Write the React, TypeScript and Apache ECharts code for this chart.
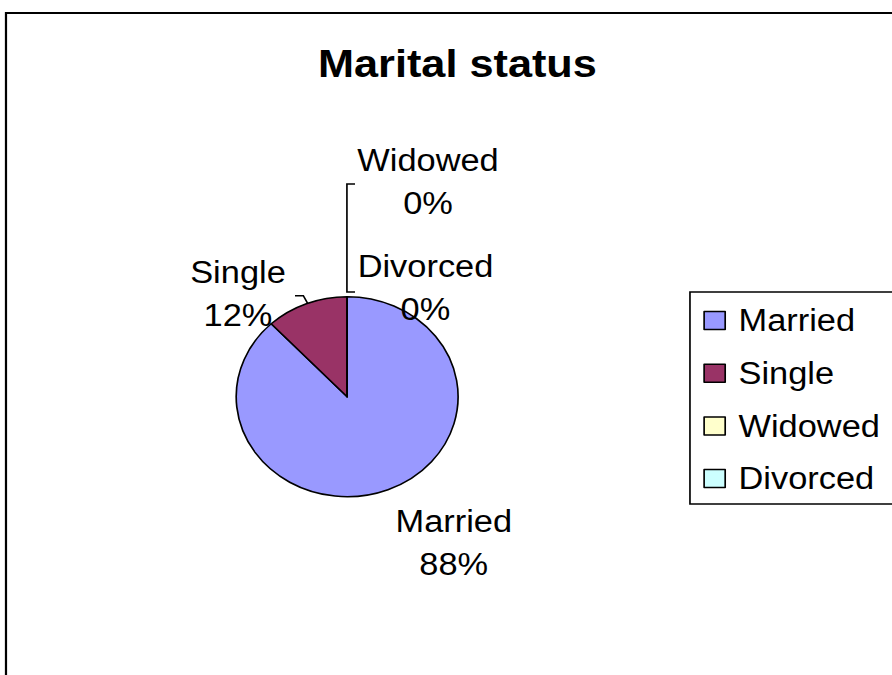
import React, { useEffect, useRef } from "react";
import * as echarts from "echarts";

// ---- data ----
const categories = ["Married", "Single", "Widowed", "Divorced"];
const values = [88, 12, 0, 0];
const colors = ["#9999FF", "#993366", "#FFFFCC", "#CCFFFF"];
const titleText = "Marital status";

// ---- layout (chart coordinates; the chart is stretched horizontally like the reference) ----
const W = 804;
const H = 675;
const STRETCH = 892 / W;
const FONT = "'Liberation Sans', Arial, Helvetica, sans-serif";

const labelSpots: { x: number; y: number; line?: number[][] }[] = [
  { x: 409, y: 542.5 },
  { x: 214.5, y: 294, line: [[265.9, 295.7], [273.4, 295.7], [277.3, 303.3]] },
  { x: 385.8, y: 181.4, line: [[320, 184], [312.7, 184], [312.7, 292], [320, 292]] },
  { x: 383.5, y: 288 },
];

export default function App() {
  const ref = useRef<HTMLDivElement>(null);

  useEffect(() => {
    if (!ref.current) return;
    const chart = echarts.init(ref.current, null, { renderer: "svg" });
    const data = categories.map((name, i) => ({
      name,
      value: values[i],
      itemStyle: { color: colors[i] },
      labelLine: { show: !!labelSpots[i].line, lineStyle: { color: "#000", width: 1.5 } },
    }));
    chart.setOption({
      animation: false,
      backgroundColor: "#ffffff",
      graphic: [
        {
          type: "rect",
          silent: true,
          z: -10,
          shape: { x: 5.4, y: 13, width: 1000, height: 1000 },
          style: { fill: "none", stroke: "#000", lineWidth: 2 },
        },
        {
          type: "text",
          silent: true,
          x: 412.3,
          y: 63.5,
          style: {
            text: titleText,
            fontSize: 39,
            fontWeight: "bold",
            fontFamily: FONT,
            fill: "#000",
            align: "center",
            verticalAlign: "middle",
          },
        },
      ],
      legend: {
        orient: "vertical",
        left: 621.9,
        top: 292,
        padding: [13, 15, 10, 12],
        itemGap: 21.7,
        itemWidth: 19,
        itemHeight: 18,
        icon: "rect",
        selectedMode: false,
        borderColor: "#000",
        borderWidth: 1.5,
        backgroundColor: "#fff",
        itemStyle: { borderColor: "#000", borderWidth: 1.5 },
        textStyle: {
          fontSize: 31,
          lineHeight: 31,
          fontFamily: FONT,
          color: "#000",
          padding: [0, 0, 0, 7],
        },
        data: categories,
      },
      series: [
        {
          type: "pie",
          center: [312.9, 396.7],
          radius: 100,
          startAngle: 90,
          clockwise: true,
          avoidLabelOverlap: false,
          percentPrecision: 0,
          itemStyle: { borderColor: "#000", borderWidth: 1.5 },
          emphasis: { disabled: true },
          label: {
            show: true,
            position: "outside",
            formatter: "{b}\n{d}%",
            fontSize: 31,
            lineHeight: 43,
            fontFamily: FONT,
            color: "#000",
            align: "center",
          },
          labelLine: { show: true, length: 5, length2: 5, lineStyle: { color: "#000", width: 1.5 } },
          labelLayout: (p: any) => {
            const s = labelSpots[p.dataIndex];
            const out: any = { x: s.x, y: s.y, align: "center", verticalAlign: "middle" };
            if (s.line) out.labelLinePoints = s.line;
            return out;
          },
          data,
        },
      ],
    });
    return () => chart.dispose();
  }, []);

  return (
    <div
      ref={ref}
      style={{
        position: "fixed",
        left: 0,
        top: 0,
        width: W,
        height: H,
        transform: `scaleX(${STRETCH})`,
        transformOrigin: "0 0",
        background: "#fff",
      }}
    />
  );
}
